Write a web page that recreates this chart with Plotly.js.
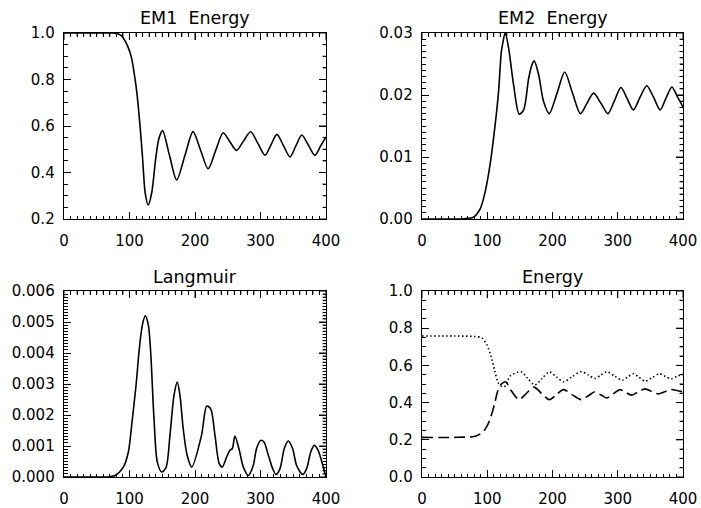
<!DOCTYPE html>
<html>
<head>
<meta charset="utf-8">
<script src="https://cdn.plot.ly/plotly-3.0.1.min.js"></script>
<style>html,body{margin:0;padding:0;background:#fff;}#chart{width:701px;height:508px;}</style>
</head>
<body>
<div id="chart"></div>
<script>
// ---- data ----
const panelTitles = ["EM1  Energy", "EM2  Energy", "Langmuir", "Energy"];
const xTickVals = [0, 100, 200, 300, 400];

const em1T = [0, 50, 75, 83, 88, 93, 98, 103, 107, 111, 116, 120, 124, 128.5, 134, 140, 145, 150.5, 161, 172, 184.5, 197, 208.5, 220, 231.5, 243, 253, 263.5, 274, 285, 296, 307, 316, 325, 335, 345, 354, 363, 373, 383, 392, 400];
const em1V = [1.0, 1.0, 1.0, 0.996, 0.988, 0.967, 0.938, 0.894, 0.83, 0.749, 0.604, 0.46, 0.31, 0.26, 0.314, 0.46, 0.547, 0.58, 0.474, 0.368, 0.472, 0.576, 0.496, 0.416, 0.494, 0.571, 0.533, 0.495, 0.535, 0.575, 0.525, 0.474, 0.519, 0.564, 0.516, 0.467, 0.514, 0.561, 0.518, 0.474, 0.515, 0.553];

const em2T = [0, 60, 72, 79, 89, 96.6, 104.2, 112, 117.3, 121.4, 123.5, 127.5, 132.7, 140.4, 149, 155.8, 163.5, 168.6, 172, 178.7, 186.4, 195, 207, 218.7, 230.7, 242.8, 253, 263, 274, 285, 295, 305, 314.5, 324, 334, 344.5, 355, 365, 374, 383, 391.5, 400];
const em2V = [0, 0, 0.0001, 0.0003, 0.0016, 0.0043, 0.0087, 0.0151, 0.0205, 0.0268, 0.0282, 0.0300, 0.0276, 0.0216, 0.0169, 0.0176, 0.0227, 0.0249, 0.0255, 0.0233, 0.0189, 0.0170, 0.0203, 0.0237, 0.0203, 0.0170, 0.0187, 0.0203, 0.0187, 0.0170, 0.0191, 0.0212, 0.0194, 0.0176, 0.0196, 0.0215, 0.0196, 0.0176, 0.0195, 0.0213, 0.0197, 0.0181];

const langT = [0, 60, 70, 78, 90.6, 98.2, 103.3, 110, 115, 119.6, 124.2, 128.8, 132.3, 137.4, 142.5, 149.2, 155.7, 161.8, 168, 173, 177, 182, 188, 195, 210, 217.9, 224, 230.5, 237, 241.7, 248.4, 253.4, 257, 261, 267.7, 273.8, 281.4, 289, 294, 300.3, 305.3, 312, 318.6, 323.7, 329.8, 336.3, 342.4, 349, 355, 364.4, 370.5, 376.6, 382, 388, 395, 400];
const langV = [0, 0, 0.00001, 0.00005, 0.00032, 0.0008, 0.00167, 0.00296, 0.00414, 0.0049, 0.0052, 0.0049, 0.00403, 0.00188, 0.00048, 0.00016, 0.0003, 0.00135, 0.00264, 0.00306, 0.00264, 0.00156, 0.0007, 0.00032, 0.00135, 0.00229, 0.0022, 0.00134, 0.00043, 0.00032, 0.00065, 0.00086, 0.00092, 0.00132, 0.00086, 0.00032, 0.00005, 0.00038, 0.00092, 0.00118, 0.00113, 0.0007, 0.00027, 0.00008, 0.00027, 0.00092, 0.00116, 0.00092, 0.00038, 0.00008, 0.00027, 0.0008, 0.00102, 0.00086, 0.00038, 0.0];

const dotT = [0, 50, 81, 91.5, 99, 105.6, 111.7, 116.8, 123, 128, 135, 151.7, 162, 173, 184, 195, 206, 217, 230, 244, 255, 265, 274, 283, 295, 307, 315, 324, 333, 342, 353, 364, 373, 382, 391, 400];
const dotV = [0.758, 0.758, 0.755, 0.748, 0.714, 0.651, 0.569, 0.506, 0.485, 0.49, 0.542, 0.566, 0.53, 0.495, 0.53, 0.565, 0.538, 0.512, 0.539, 0.566, 0.548, 0.53, 0.548, 0.566, 0.543, 0.52, 0.537, 0.555, 0.535, 0.515, 0.535, 0.555, 0.541, 0.528, 0.542, 0.553];

const dashT = [0, 50, 80, 86.3, 94, 100.6, 105.7, 110.9, 116, 121, 128, 137.4, 148.7, 160, 171.6, 183, 195, 206, 216.6, 230, 244, 255, 265, 274, 283, 293, 303.4, 312, 321.4, 331, 341.8, 352, 362.2, 372, 381.6, 391, 400];
const dashV = [0.213, 0.213, 0.218, 0.226, 0.244, 0.28, 0.325, 0.389, 0.461, 0.497, 0.512, 0.461, 0.416, 0.45, 0.483, 0.45, 0.416, 0.443, 0.47, 0.443, 0.416, 0.437, 0.458, 0.442, 0.425, 0.447, 0.47, 0.455, 0.44, 0.457, 0.474, 0.46, 0.447, 0.458, 0.47, 0.465, 0.458];

// ---- figure ----
const W = 701, H = 508;
const FONT = 'DejaVu Sans';
function line(dash) {
  return {color: '#000', width: 1.6, shape: 'spline', smoothing: 0.8, dash: dash || 'solid'};
}
const traces = [
  {x: em1T, y: em1V, xaxis: 'x', yaxis: 'y', mode: 'lines', line: line()},
  {x: em2T, y: em2V, xaxis: 'x2', yaxis: 'y2', mode: 'lines', line: line()},
  {x: langT, y: langV, xaxis: 'x3', yaxis: 'y3', mode: 'lines', line: line()},
  {x: dotT, y: dotV, xaxis: 'x4', yaxis: 'y4', mode: 'lines', line: line('1.5px,2.5px')},
  {x: dashT, y: dashV, xaxis: 'x4', yaxis: 'y4', mode: 'lines', line: line('11px,5px')}
];

const MAJ = 7, MIN = 3.5;
function axis(extra) {
  return Object.assign({
    showline: true, linecolor: '#000', linewidth: 1.3, mirror: 'allticks',
    ticks: 'inside', ticklen: MAJ, tickwidth: 1, tickcolor: '#000',
    showgrid: false, zeroline: false, fixedrange: true,
    tickfont: {family: FONT, size: 15, color: '#000'}
  }, extra);
}
function xaxis(domain, anchor) {
  return axis({domain: domain, anchor: anchor, range: [0, 400], tickmode: 'array', tickvals: xTickVals,
    ticktext: xTickVals.map(String), ticklabelstandoff: 8,
    minor: {dtick: 10, ticks: 'inside', ticklen: MIN, tickwidth: 1, tickcolor: '#000'}});
}
function yaxis(domain, anchor, range, dtick, minorD, fmt) {
  return axis({domain: domain, anchor: anchor, range: range, tick0: 0, dtick: dtick, tickformat: fmt,
    ticklabelstandoff: 5,
    minor: {dtick: minorD, ticks: 'inside', ticklen: MIN, tickwidth: 1, tickcolor: '#000'}});
}
const xL = [64 / W, 326 / W], xR = [422 / W, 683 / W];
const yT = [(H - 219) / H, (H - 33) / H], yB = [(H - 477) / H, (H - 291) / H];

const titleY = [(H - 18) / H, (H - 18) / H, (H - 277) / H, (H - 277) / H];
const titleX = [(xL[0] + xL[1]) / 2, (xR[0] + xR[1]) / 2, (xL[0] + xL[1]) / 2, (xR[0] + xR[1]) / 2];

const yCfg = [
  {range: [0.2, 1.0], dtick: 0.2, minor: 0.05, fmt: '.1f'},
  {range: [0, 0.03], dtick: 0.01, minor: 0.001, fmt: '.2f'},
  {range: [0, 0.006], dtick: 0.001, minor: 0.0001, fmt: '.3f'},
  {range: [0, 1.0], dtick: 0.2, minor: 0.05, fmt: '.1f'}
];

const layout = {
  width: W, height: H, margin: {l: 0, r: 0, t: 0, b: 0},
  paper_bgcolor: '#fff', plot_bgcolor: '#fff', showlegend: false,
  xaxis: xaxis(xL, 'y'), yaxis: yaxis(yT, 'x', yCfg[0].range, yCfg[0].dtick, yCfg[0].minor, yCfg[0].fmt),
  xaxis2: xaxis(xR, 'y2'), yaxis2: yaxis(yT, 'x2', yCfg[1].range, yCfg[1].dtick, yCfg[1].minor, yCfg[1].fmt),
  xaxis3: xaxis(xL, 'y3'), yaxis3: yaxis(yB, 'x3', yCfg[2].range, yCfg[2].dtick, yCfg[2].minor, yCfg[2].fmt),
  xaxis4: xaxis(xR, 'y4'), yaxis4: yaxis(yB, 'x4', yCfg[3].range, yCfg[3].dtick, yCfg[3].minor, yCfg[3].fmt),
  annotations: panelTitles.map((t, i) => ({
    text: t, xref: 'paper', yref: 'paper', x: titleX[i], y: titleY[i],
    xanchor: 'center', yanchor: 'middle', showarrow: false,
    font: {family: FONT, size: 17.5, color: '#000'}
  })),
  shapes: []
};

// tick marks on the top and right frame edges, placed through each axis' own scale
for (let i = 1; i <= 4; i++) {
  const xr = i === 1 ? 'x' : 'x' + i, yr = i === 1 ? 'y' : 'y' + i;
  const cfg = yCfg[i - 1];
  // top edge (x ticks)
  for (let k = 0; k <= 40; k++) {
    const v = k * 10;
    const len = (v % 100 === 0) ? MAJ : MIN;
    layout.shapes.push({type: 'line', xref: xr, yref: yr + ' domain', ysizemode: 'pixel', yanchor: 1,
      x0: v, x1: v, y0: 0, y1: -len, line: {color: '#000', width: 1}});
  }
  // right edge (y ticks)
  const n = Math.round((cfg.range[1] - cfg.range[0]) / cfg.minor);
  const per = Math.round(cfg.dtick / cfg.minor);
  for (let k = 0; k <= n; k++) {
    const v = cfg.range[0] + k * cfg.minor;
    const len = (k % per === 0) ? MAJ : MIN;
    layout.shapes.push({type: 'line', yref: yr, xref: xr + ' domain', xsizemode: 'pixel', xanchor: 1,
      y0: v, y1: v, x0: 0, x1: -len, line: {color: '#000', width: 1}});
  }
}
Plotly.newPlot('chart', traces, layout, {staticPlot: true, displayModeBar: false});
</script>
</body>
</html>
